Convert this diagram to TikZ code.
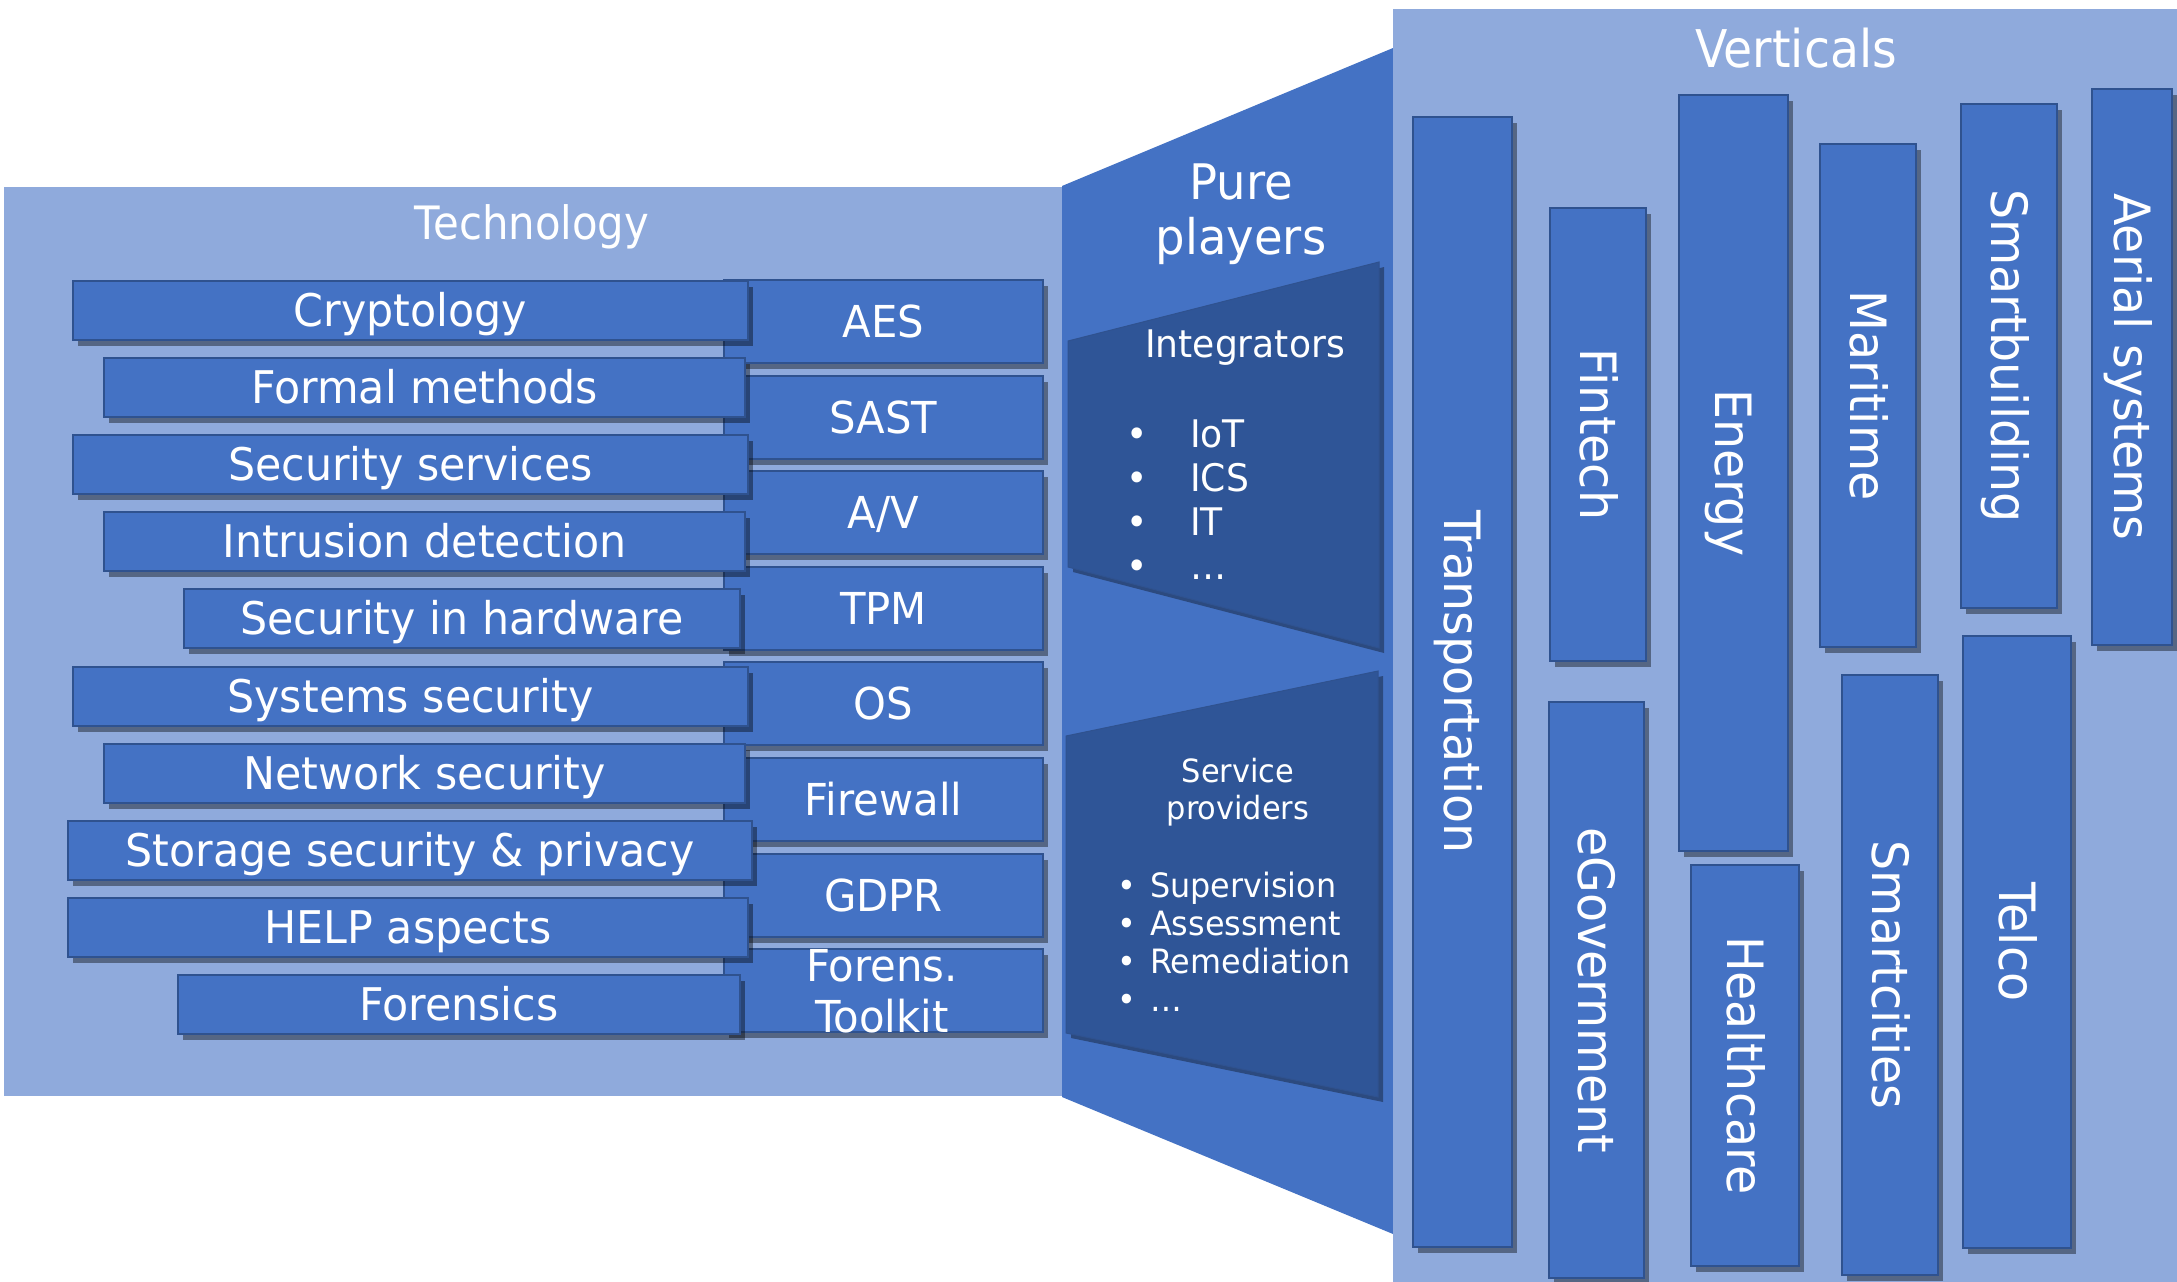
\documentclass[tikz,border=0pt]{standalone}
\usepackage{fontspec}
\setmainfont[FakeStretch=0.95]{DejaVu Sans}
\newfontfamily\titlefont[FakeStretch=0.91]{DejaVu Sans}
\usepackage{graphicx}
\usetikzlibrary{positioning,shadows}

\definecolor{panellight}{HTML}{8FAADC}
\definecolor{midblue}{HTML}{4472C4}
\definecolor{boxline}{HTML}{2F528F}
\definecolor{darkpanel}{HTML}{2F5597}

% rotated label, reads top to bottom
\newcommand{\vtxt}[1]{\rotatebox{-90}{\raisebox{0pt}[36pt][0pt]{#1}}}

\begin{document}
\begin{tikzpicture}[x=1pt, y=-1pt, node distance=10.6pt,
techbox/.style={draw=boxline, fill=midblue, line width=2pt, anchor=north west,
  minimum height=59pt, text height=32pt, text depth=0pt, font=\fontsize{45}{52}\selectfont,
  drop shadow={shadow xshift=5pt, shadow yshift=-6pt, fill=black, opacity=.4}},
colbox/.style={techbox, minimum width=319pt, minimum height=83pt},
vbox/.style={draw=boxline, fill=midblue, line width=2pt, anchor=north west,
  font=\fontsize{50}{60}\selectfont,
  drop shadow={shadow xshift=5pt, shadow yshift=-6pt, fill=black, opacity=.4}}]
\tikzstyle{every node}=[text=white, inner sep=0pt]

\fill[white] (0,0) rectangle (2177,1282);
\useasboundingbox (0,0) rectangle (2177,1282);

% panels
\fill[panellight] (4,187) rectangle (1062,1096);
\fill[midblue] (1062,186) -- (1393,48) -- (1393,1234) -- (1062,1097) -- cycle;
\fill[panellight] (1393,9) rectangle (2177,1282);

\node[anchor=base, font=\titlefont\fontsize{46}{52}\selectfont] (techtitle) at (532,239) {Technology};
\node[anchor=base, font=\titlefont\fontsize{52}{60}\selectfont] (verttitle) at (1796,67) {Verticals};
\node[anchor=base, font=\fontsize{49}{55}\selectfont] (pure) at (1241,199)
  {\begin{tabular}[t]{@{}c@{}}Pure\\players\end{tabular}};

% right column
\node[colbox, font=\fontsize{44}{52}\selectfont] (aes) at (723,279) {AES};
\node[colbox, font=\fontsize{44}{52}\selectfont] (sast) [below=of aes] {SAST};
\node[colbox, font=\fontsize{44}{52}\selectfont] (av) [below=of sast] {A/V};
\node[colbox, font=\fontsize{44}{52}\selectfont] (tpm) [below=of av] {TPM};
\node[colbox, font=\fontsize{44}{52}\selectfont] (os) [below=of tpm] {OS};
\node[colbox, font=\fontsize{44}{52}\selectfont] (firewall) [below=of os] {Firewall};
\node[colbox, font=\fontsize{44}{52}\selectfont] (gdpr) [below=of firewall] {GDPR};
\node[colbox] (forens) [below=of gdpr] {};
\node[anchor=base, font=\fontsize{44}{51}\selectfont] (forenstxt) at (882,981)
  {\begin{tabular}[t]{@{}c@{}}Forens.\\Toolkit\end{tabular}};

% technology topics
\node[techbox, minimum width=675pt] (crypto) at (72,280) {Cryptology};
\node[techbox, minimum width=641pt] (formal) at (103,357) {Formal methods};
\node[techbox, minimum width=675pt] (services) at (72,434) {Security services};
\node[techbox, minimum width=641pt] (intrusion) at (103,511) {Intrusion detection};
\node[techbox, minimum width=556pt] (hardware) at (183,588) {Security in hardware};
\node[techbox, minimum width=675pt] (systems) at (72,666) {Systems security};
\node[techbox, minimum width=641pt] (network) at (103,743) {Network security};
\node[techbox, minimum width=684pt] (storage) at (67,820) {Storage security \& privacy};
\node[techbox, minimum width=680pt] (help) at (67,897) {HELP aspects};
\node[techbox, minimum width=562pt] (forensics) at (177,974) {Forensics};

% pure players
\fill[black, opacity=.35, shift={(5,5)}] (1068,341) -- (1379,262) -- (1379,648) -- (1068,567) -- cycle;
\filldraw[fill=darkpanel, draw=boxline, line width=1pt] (1068,341) -- (1379,262) -- (1379,648) -- (1068,567) -- cycle;
\node[anchor=base, font=\fontsize{38}{44}\selectfont] (integ) at (1245,357) {Integrators};
\node[anchor=base west, font=\fontsize{38}{44}\selectfont] (integlist) at (1126,447)
  {\begin{tabular}[t]{@{}p{64pt}@{}l@{}}•&IoT\\•&ICS\\•&IT\\•&…\end{tabular}};

\fill[black, opacity=.35, shift={(5,5)}] (1066,736) -- (1378,671) -- (1378,1097) -- (1066,1033) -- cycle;
\filldraw[fill=darkpanel, draw=boxline, line width=1pt] (1066,736) -- (1378,671) -- (1378,1097) -- (1066,1033) -- cycle;
\node[anchor=base, font=\fontsize{32}{37}\selectfont] (servtitle) at (1238,782)
  {\begin{tabular}[t]{@{}c@{}}Service\\providers\end{tabular}};
\node[anchor=base west, font=\fontsize{33.5}{38}\selectfont] (servlist) at (1117,897)
  {\begin{tabular}[t]{@{}p{33pt}@{}l@{}}•&Supervision\\•&Assessment\\•&Remediation\\•&…\end{tabular}};

% verticals
\node[vbox, minimum width=99pt, minimum height=1130pt] (transport) at (1412,116) {\vtxt{Transportation}};
\node[vbox, minimum width=96pt, minimum height=453pt] (fintech) at (1549,207) {\vtxt{Fintech}};
\node[vbox, minimum width=95pt, minimum height=576pt] (egov) at (1548,701) {\vtxt{eGovernment}};
\node[vbox, minimum width=109pt, minimum height=756pt] (energy) at (1678,94) {\vtxt{Energy}};
\node[vbox, minimum width=108pt, minimum height=401pt] (health) at (1690,864) {\vtxt{Healthcare}};
\node[vbox, minimum width=96pt, minimum height=503pt] (maritime) at (1819,143) {\vtxt{Maritime}};
\node[vbox, minimum width=96pt, minimum height=600pt] (smartcities) at (1841,674) {\vtxt{Smartcities}};
\node[vbox, minimum width=96pt, minimum height=504pt] (smartbuilding) at (1960,103) {\vtxt{Smartbuilding}};
\node[vbox, minimum width=108pt, minimum height=612pt] (telco) at (1962,635) {\vtxt{Telco}};
\node[vbox, minimum width=80pt, minimum height=556pt] (aerial) at (2091,88) {\vtxt{Aerial systems}};
\end{tikzpicture}
\end{document}
